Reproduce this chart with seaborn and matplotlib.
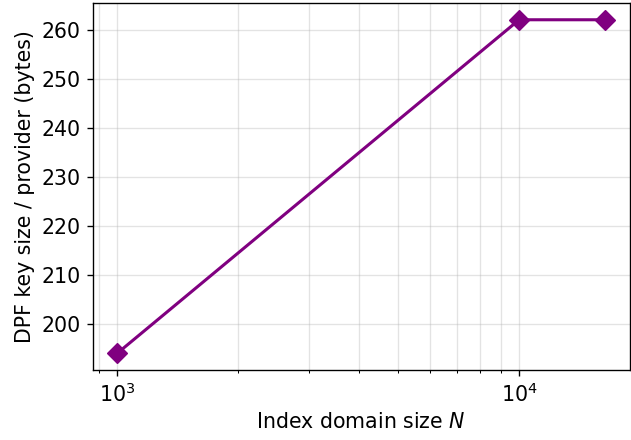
import matplotlib
matplotlib.use("Agg")
import matplotlib.pyplot as plt
import seaborn as sns
import pandas as pd

domain_sizes = [1000, 10000, 16384]
key_bytes = [194, 262, 262]

df = pd.DataFrame({"N": domain_sizes, "bytes": key_bytes})

DPI = 123
plt.rcParams["font.size"] = 12
fig, ax = plt.subplots(figsize=(631 / DPI, 440 / DPI), dpi=DPI)
sns.lineplot(data=df, x="N", y="bytes", ax=ax, color="purple", marker="D",
             markersize=8.5, linewidth=1.8, markeredgecolor="purple")
ax.set_xscale("log")
ax.grid(True, which="both", alpha=0.35)
ax.tick_params(labelsize=12)
ax.set_xlabel("Index domain size $N$", fontsize=12)
ax.set_ylabel("DPF key size / provider (bytes)", fontsize=12)
fig.subplots_adjust(left=0.147, right=0.998, top=0.993, bottom=0.159)
fig.savefig("out.png", dpi=DPI)
